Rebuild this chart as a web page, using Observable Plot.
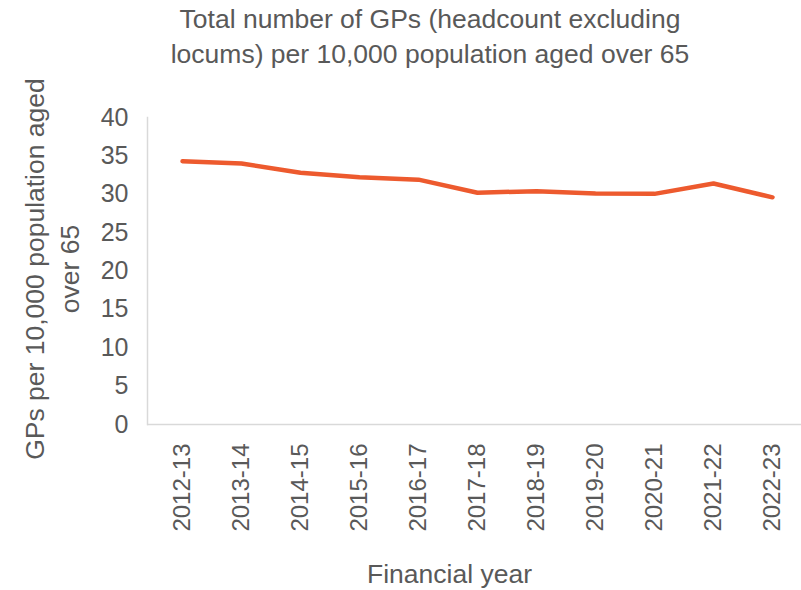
<!DOCTYPE html>
<html>
<head>
<meta charset="utf-8">
<script src="https://cdn.jsdelivr.net/npm/d3@7"></script>
<script src="https://cdn.jsdelivr.net/npm/@observablehq/plot@0.6"></script>
<style>
  body { margin: 0; background: #fff; font-family: "Liberation Sans", Arial, sans-serif; }
  #wrap { width: 801px; height: 590px; position: relative; overflow: hidden; }
  #title { position: absolute; left: 0; top: 0; width: 801px; height: 80px; }
  #title div { position: absolute; left: 0; width: 860px; text-align: center; font-size: 26.5px; color: #595959; white-space: nowrap; }
  #chart { position: absolute; left: 0; top: 0; }
  svg text { font-family: "Liberation Sans", Arial, sans-serif; }
</style>
</head>
<body>
<div id="wrap">
  <div id="chart"></div>
  <div id="title">
    <div style="top:4px">Total number of GPs (headcount excluding</div>
    <div style="top:39px">locums) per 10,000 population aged over 65</div>
  </div>
</div>
<script>
const years = ["2012-13","2013-14","2014-15","2015-16","2016-17","2017-18","2018-19","2019-20","2020-21","2021-22","2022-23"];
const gpsPer10k = [34.3, 34.0, 32.8, 32.2, 31.9, 30.2, 30.4, 30.1, 30.05, 31.4, 29.6];
const yTicks = [0, 5, 10, 15, 20, 25, 30, 35, 40];
const yLabel = "GPs per 10,000 population aged\nover 65";
const xLabel = "Financial year";

const data = years.map((y, i) => ({year: y, value: gpsPer10k[i]}));

const chart = Plot.plot({
  width: 801,
  height: 590,
  marginTop: 117,
  marginBottom: 166,
  marginLeft: 147,
  marginRight: 0,
  style: {fontFamily: "Liberation Sans, Arial, sans-serif", color: "#595959", background: "transparent"},
  x: {type: "point", domain: years, range: [177, 776], padding: 0, label: null},
  y: {domain: [0, 40], ticks: yTicks, label: null},
  marks: [
    Plot.ruleY([0], {stroke: "#d9d9d9", strokeWidth: 1.5}),
    Plot.frame({anchor: "left", stroke: "#d9d9d9", strokeWidth: 1.5}),
    Plot.axisY({ticks: yTicks, tickSize: 0, tickPadding: 19, fontSize: 25, fill: "#595959", label: null}),
    Plot.axisX({tickSize: 0, tickPadding: 19, tickRotate: -90, fontSize: 24, fill: "#595959", label: null}),
    Plot.line(data, {x: "year", y: "value", stroke: "#ED5A2E", strokeWidth: 4.5, strokeLinecap: "round", strokeLinejoin: "round"}),
    Plot.text([yLabel], {frameAnchor: "left", dx: -97, dy: -2, rotate: -90, textAnchor: "middle", lineAnchor: "middle", fontSize: 26.5, fill: "#595959", lineHeight: 1.3, text: d => d}),
    Plot.text([xLabel], {frameAnchor: "bottom", dx: -25, dy: 158, fontSize: 26.5, fill: "#595959", text: d => d})
  ]
});
document.getElementById("chart").appendChild(chart);
</script>
</body>
</html>
